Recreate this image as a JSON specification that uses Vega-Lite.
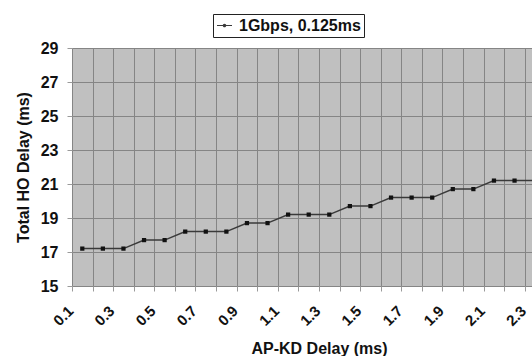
{
  "$schema": "https://vega.github.io/schema/vega-lite/v6.json",
  "autosize": {"type": "none"},
  "padding": {"left": 72, "top": 48, "right": 0, "bottom": 70},
  "width": 460,
  "height": 238,
  "config": {
    "view": {"fill": "#c0c0c0", "stroke": null},
    "font": "Liberation Sans",
    "axis": {
      "labelFont": "Liberation Sans", "labelFontWeight": "bold", "labelColor": "#111",
      "titleFont": "Liberation Sans", "titleFontWeight": "bold", "titleColor": "#111",
      "gridColor": "#858585", "gridOpacity": 1, "gridWidth": 1,
      "tickColor": "#9a9a9a", "tickWidth": 1, "domain": false
    }
  },
  "data": {
    "values": [
      {"d": "0.1", "v": 17.2}, {"d": "0.2", "v": 17.2}, {"d": "0.3", "v": 17.2},
      {"d": "0.4", "v": 17.7}, {"d": "0.5", "v": 17.7}, {"d": "0.6", "v": 18.2},
      {"d": "0.7", "v": 18.2}, {"d": "0.8", "v": 18.2}, {"d": "0.9", "v": 18.7},
      {"d": "1.0", "v": 18.7}, {"d": "1.1", "v": 19.2}, {"d": "1.2", "v": 19.2},
      {"d": "1.3", "v": 19.2}, {"d": "1.4", "v": 19.7}, {"d": "1.5", "v": 19.7},
      {"d": "1.6", "v": 20.2}, {"d": "1.7", "v": 20.2}, {"d": "1.8", "v": 20.2},
      {"d": "1.9", "v": 20.7}, {"d": "2.0", "v": 20.7}, {"d": "2.1", "v": 21.2},
      {"d": "2.2", "v": 21.2}, {"d": "2.3", "v": 21.2}
    ]
  },
  "encoding": {
    "x": {
      "field": "d", "type": "ordinal", "bandPosition": 0.5,
      "scale": {
        "type": "band", "paddingInner": 0, "paddingOuter": 0,
        "range": [0, 494],
        "domain": ["0.1","0.2","0.3","0.4","0.5","0.6","0.7","0.8","0.9","1.0","1.1","1.2","1.3","1.4","1.5","1.6","1.7","1.8","1.9","2.0","2.1","2.2","2.3","2.4"]
      },
      "axis": {
        "title": "AP-KD Delay (ms)", "titleFontSize": 16,
        "titleY": 67, "titleBaseline": "alphabetic",
        "tickBand": "extent", "grid": true, "tickSize": 5,
        "labelAngle": -45, "labelAlign": "right", "labelBaseline": "middle",
        "labelFontSize": 15, "labelPadding": 17, "labelOffset": -12,
        "labelOverlap": false,
        "labelExpr": "round(toNumber(datum.value) * 10) % 2 == 1 ? datum.value : ''"
      }
    },
    "y": {
      "field": "v", "type": "quantitative",
      "scale": {"domain": [15, 29], "nice": false, "zero": false},
      "axis": {
        "title": "Total HO Delay (ms)", "titleFontSize": 16,
        "titleAngle": -90, "titleX": -44, "titleY": 119,
        "titleAlign": "center", "titleBaseline": "alphabetic",
        "values": [15, 17, 19, 21, 23, 25, 27, 29],
        "tickSize": 5, "labelPadding": 9, "labelFontSize": 16,
        "grid": true
      }
    }
  },
  "layer": [
    {
      "mark": {"type": "line", "strokeWidth": 1.5, "clip": true},
      "encoding": {
        "color": {
          "datum": "1Gbps, 0.125ms",
          "scale": {"range": ["#3a3a3a"]},
          "legend": {
            "title": null, "orient": "none", "legendX": 141, "legendY": -34,
            "strokeColor": "#222", "fillColor": "#ffffff", "padding": 3,
            "labelFont": "Liberation Sans", "labelFontSize": 16, "labelFontWeight": "bold", "labelColor": "#111",
            "symbolType": "M-1,0L1,0M-0.15,0A0.15,0.15 0 1,0 0.15,0A0.15,0.15 0 1,0 -0.15,0Z",
            "symbolSize": 225, "symbolStrokeWidth": 1.2, "symbolFillColor": "#111",
            "labelOffset": 6
          }
        }
      }
    },
    {
      "mark": {"type": "point", "shape": "square", "filled": true, "size": 18, "color": "#111", "opacity": 1, "clip": true}
    }
  ]
}
